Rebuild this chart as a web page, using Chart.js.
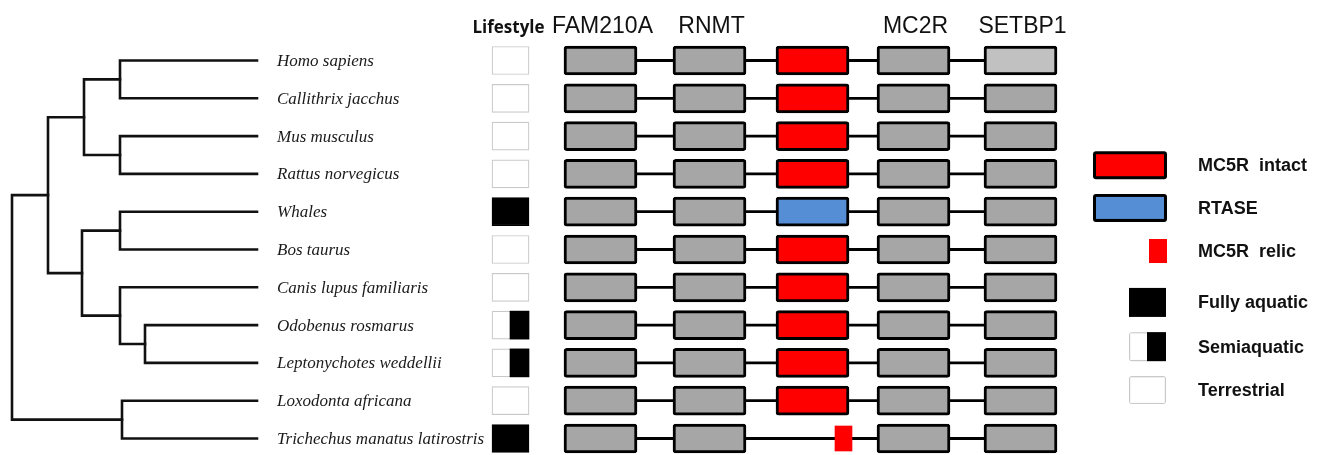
<!DOCTYPE html>
<html>
<head>
<meta charset="utf-8">
<script src="https://cdn.jsdelivr.net/npm/chart.js"></script>
<style>
  html, body { margin: 0; padding: 0; background: #ffffff; }
  #wrap { width: 1320px; height: 455px; position: relative; }
</style>
</head>
<body>
<div id="wrap"><canvas id="c"></canvas></div>
<script>
// ---- data ----
const species = [
  'Homo sapiens', 'Callithrix jacchus', 'Mus musculus', 'Rattus norvegicus',
  'Whales', 'Bos taurus', 'Canis lupus familiaris', 'Odobenus rosmarus',
  'Leptonychotes weddellii', 'Loxodonta africana', 'Trichechus manatus latirostris'
];
const lifestyle = [
  'terrestrial', 'terrestrial', 'terrestrial', 'terrestrial', 'aquatic', 'terrestrial',
  'terrestrial', 'semiaquatic', 'semiaquatic', 'terrestrial', 'aquatic'
];
const genes = ['FAM210A', 'RNMT', 'MC5R', 'MC2R', 'SETBP1'];
const geneHeaders = ['FAM210A', 'RNMT', '', 'MC2R', 'SETBP1'];
const mc5rState = [
  'intact', 'intact', 'intact', 'intact', 'rtase', 'intact',
  'intact', 'intact', 'intact', 'intact', 'relic'
];
const setbp1State = [
  'pale', 'full', 'full', 'full', 'full', 'full',
  'full', 'full', 'full', 'full', 'full'
];
const legendLabels = ['MC5R  intact', 'RTASE', 'MC5R  relic', 'Fully aquatic', 'Semiaquatic', 'Terrestrial'];
const legendKinds = ['intact', 'rtase', 'relic', 'aquatic', 'semiaquatic', 'terrestrial'];

// cladogram: leaves are row indexes into `species`, depth is the node's x on the layout axis
const tree = { depth: 12, children: [
  { depth: 48, children: [
    { depth: 84, children: [ { depth: 120, children: [0, 1] }, { depth: 120, children: [2, 3] } ] },
    { depth: 82, children: [
      { depth: 120, children: [4, 5] },
      { depth: 120, children: [6, { depth: 145, children: [7, 8] }] }
    ] }
  ] },
  { depth: 122, children: [9, 10] }
] };

// ---- layout ----
const W = 1320, H = 455;
const ROW0_PX = 60.5, ROW_STEP_PX = 37.8;
const TIP_X = 257, LABEL_X = 277;
const geneSpans = [[564, 637], [673, 746], [776, 849], [877, 950], [984, 1057]];
const relicSpan = [835, 852];
const lifeSpan = [492, 529];
const semiSplit = 510;
const HEADER_ROW = -0.73;

const colors = {
  gene: '#a6a6a6', pale: '#c1c1c1', intact: '#ff0000', rtase: '#558ed5',
  relic: '#ff0000', edge: '#000000', lifeEdge: '#c9c9c9'
};

// ---- datasets ----
const datasets = [];

// connectors running through each gene row
species.forEach((s, i) => {
  datasets.push({
    type: 'line', order: 30,
    data: [{ x: geneSpans[0][0] + 10, y: i }, { x: geneSpans[4][1] - 10, y: i }],
    borderColor: '#000', borderWidth: 2.8, pointRadius: 0, fill: false
  });
});

// cladogram brackets
function nodeY(n) {
  return typeof n === 'number' ? n : n.children.map(nodeY).reduce((a, b) => a + b, 0) / n.children.length;
}
function nodeX(n) { return typeof n === 'number' ? TIP_X : n.depth; }
function addBrackets(n) {
  if (typeof n === 'number') return;
  const [a, b] = n.children;
  datasets.push({
    type: 'line', order: 30,
    data: [
      { x: nodeX(a), y: nodeY(a) }, { x: n.depth, y: nodeY(a) },
      { x: n.depth, y: nodeY(b) }, { x: nodeX(b), y: nodeY(b) }
    ],
    borderColor: '#111', borderWidth: 2.6, pointRadius: 0, fill: false,
    borderJoinStyle: 'miter', borderCapStyle: 'square'
  });
  n.children.forEach(addBrackets);
}
addBrackets(tree);

// gene boxes
const barBase = { type: 'bar', indexAxis: 'y', grouped: false, borderSkipped: false };
genes.forEach((g, gi) => {
  const rows = species.map((s, i) => i).filter(i => !(g === 'MC5R' && mc5rState[i] === 'relic'));
  const fill = rows.map(i => {
    if (g === 'MC5R') return colors[mc5rState[i]];
    if (g === 'SETBP1' && setbp1State[i] === 'pale') return colors.pale;
    return colors.gene;
  });
  datasets.push(Object.assign({}, barBase, {
    label: g, order: 5,
    data: rows.map(i => ({ x: geneSpans[gi], y: i })),
    backgroundColor: fill, borderColor: colors.edge, borderWidth: 3, borderRadius: 3,
    barThickness: 29
  }));
});

// MC5R relic fragments
datasets.push(Object.assign({}, barBase, {
  label: 'MC5R relic', order: 4,
  data: species.map((s, i) => i).filter(i => mc5rState[i] === 'relic').map(i => ({ x: relicSpan, y: i })),
  backgroundColor: colors.relic, borderWidth: 0, barThickness: 25
}));

// lifestyle cells
datasets.push(Object.assign({}, barBase, {
  label: 'Lifestyle', order: 6,
  data: species.map((s, i) => ({ x: lifeSpan, y: i })),
  backgroundColor: lifestyle.map(l => l === 'aquatic' ? '#000' : '#fff'),
  borderColor: lifestyle.map(l => l === 'aquatic' ? '#000' : colors.lifeEdge),
  borderWidth: 1.2, barThickness: 28
}));
datasets.push(Object.assign({}, barBase, {
  label: 'Semiaquatic', order: 3,
  data: species.map((s, i) => i).filter(i => lifestyle[i] === 'semiaquatic').map(i => ({ x: [semiSplit, lifeSpan[1]], y: i })),
  backgroundColor: '#000', borderWidth: 0, barThickness: 28
}));

// ---- text and key ----
const legendRows = [2.77, 3.90, 5.04, 6.40, 7.57, 8.72];
function box(ctx, x0, x1, yc, h, fill, stroke, lw) {
  const top = yc - h / 2;
  if (stroke && lw) {
    ctx.fillStyle = stroke;
    ctx.beginPath(); ctx.roundRect(x0, top, x1 - x0, h, 3); ctx.fill();
    ctx.fillStyle = fill;
    ctx.fillRect(x0 + lw, top + lw, x1 - x0 - 2 * lw, h - 2 * lw);
  } else {
    ctx.fillStyle = fill;
    ctx.fillRect(x0, top, x1 - x0, h);
  }
}
const overlay = {
  id: 'overlay',
  afterDatasetsDraw(chart) {
    const { ctx } = chart;
    const xs = chart.scales.x, ys = chart.scales.y;
    const px = v => xs.getPixelForValue(v), py = v => ys.getPixelForValue(v);
    ctx.save();

    // species names
    ctx.font = 'italic 17px "Liberation Serif"';
    ctx.fillStyle = '#1a1a1a';
    ctx.textAlign = 'left';
    ctx.textBaseline = 'middle';
    species.forEach((s, i) => ctx.fillText(s, px(LABEL_X), py(i) + 1));

    // column headers
    ctx.textBaseline = 'alphabetic';
    ctx.textAlign = 'center';
    ctx.fillStyle = '#111';
    ctx.font = '23px "Liberation Sans"';
    geneHeaders.forEach((h, gi) => {
      if (h) ctx.fillText(h, px((geneSpans[gi][0] + geneSpans[gi][1]) / 2 + 2), py(HEADER_ROW));
    });
    ctx.font = 'bold 17px "Open Sans"';
    ctx.fillText('Lifestyle', px((lifeSpan[0] + lifeSpan[1]) / 2 - 2), py(HEADER_ROW));

    // key
    legendKinds.forEach((k, li) => {
      const yc = py(legendRows[li]);
      if (k === 'intact') box(ctx, px(1093), px(1167), yc, 28, colors.intact, '#000', 3);
      if (k === 'rtase') box(ctx, px(1093), px(1167), yc, 28, colors.rtase, '#000', 3);
      if (k === 'relic') box(ctx, px(1149), px(1167), yc, 24, colors.relic);
      if (k === 'aquatic') box(ctx, px(1129), px(1166), yc, 29, '#000');
      if (k === 'semiaquatic') {
        box(ctx, px(1129), px(1166), yc, 29, '#fff', colors.lifeEdge, 1.2);
        box(ctx, px(1147), px(1166), yc, 29, '#000');
      }
      if (k === 'terrestrial') box(ctx, px(1129), px(1166), yc, 28, '#fff', colors.lifeEdge, 1.2);
    });
    ctx.font = 'bold 18px "Liberation Sans"';
    ctx.textAlign = 'left';
    ctx.textBaseline = 'middle';
    ctx.fillStyle = '#111';
    legendLabels.forEach((t, li) => ctx.fillText(t, px(1198), py(legendRows[li]) + 1));

    ctx.restore();
  }
};

new Chart(document.getElementById('c'), {
  type: 'bar',
  data: { datasets },
  options: {
    responsive: true,
    maintainAspectRatio: false,
    animation: false,
    events: [],
    layout: { padding: 0 },
    plugins: { legend: { display: false }, tooltip: { enabled: false } },
    scales: {
      x: { type: 'linear', min: 0, max: W, display: false, offset: false },
      y: { type: 'linear', reverse: true, display: false, offset: false,
           min: -ROW0_PX / ROW_STEP_PX, max: (H - ROW0_PX) / ROW_STEP_PX }
    }
  },
  plugins: [overlay]
});
</script>
</body>
</html>
